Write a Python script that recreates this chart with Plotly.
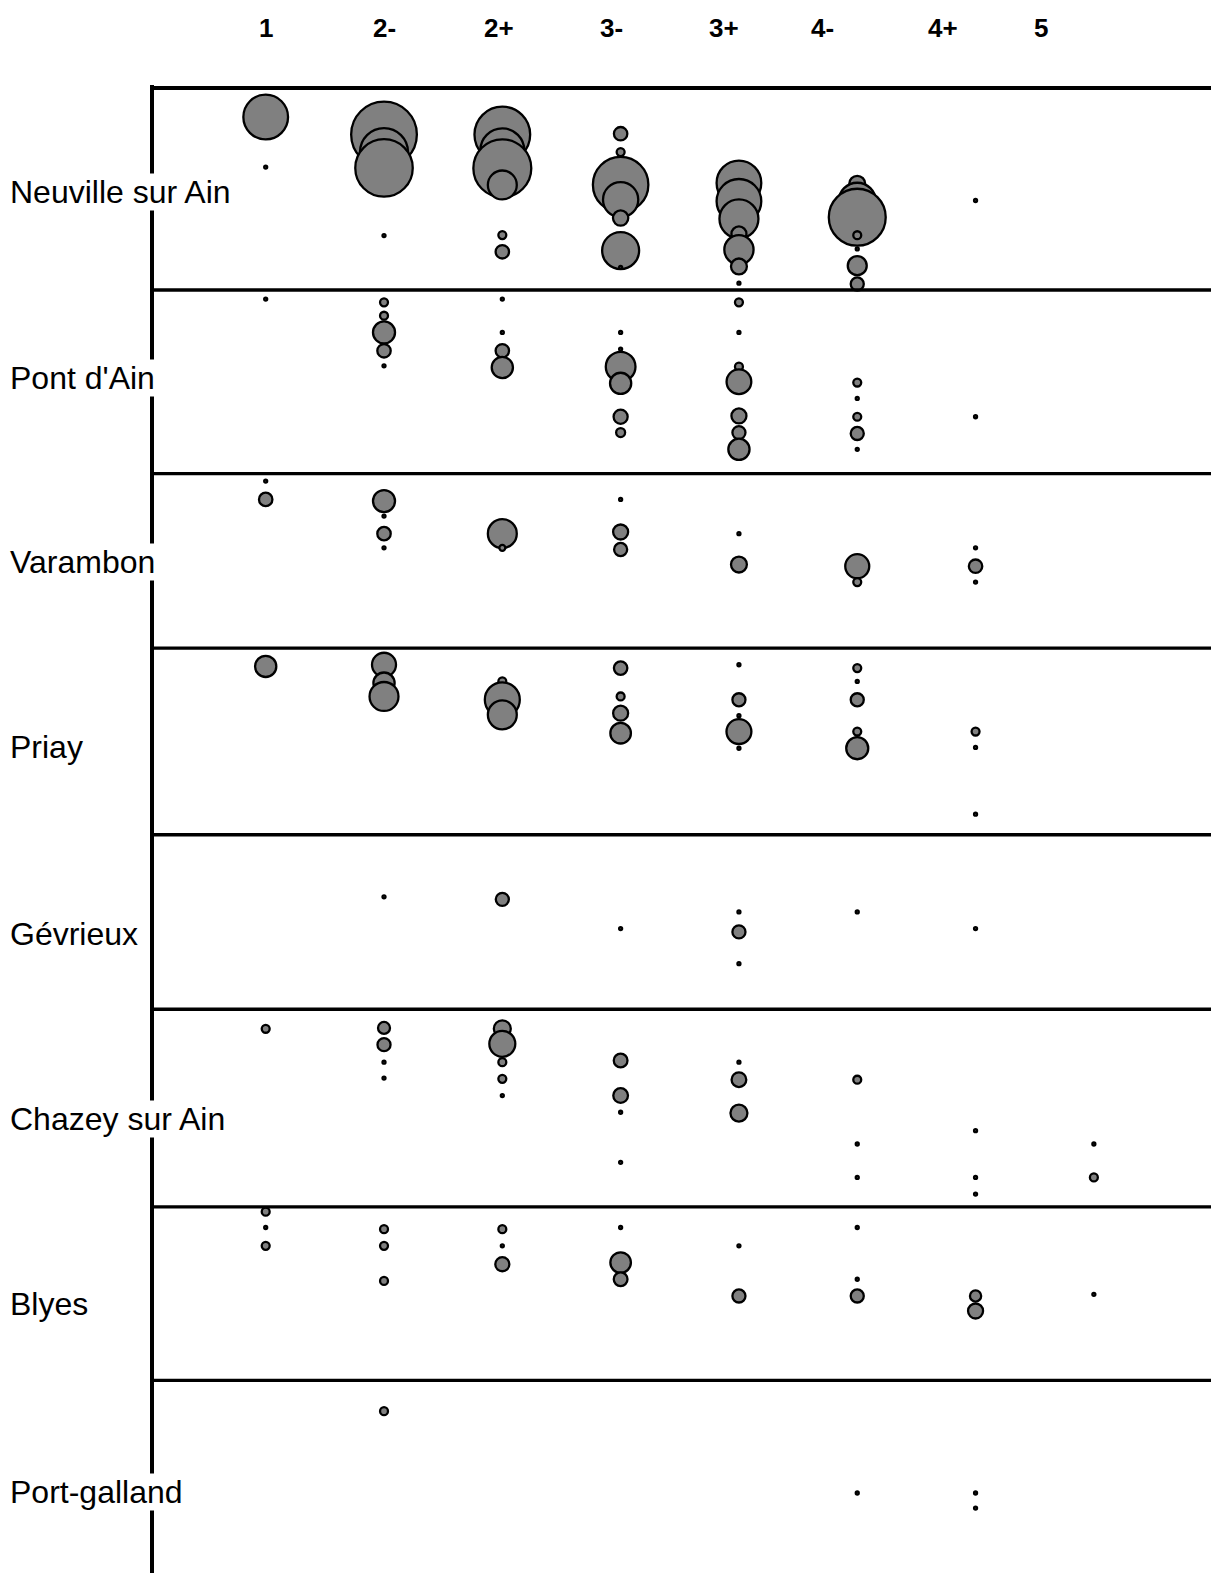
import plotly.graph_objects as go

# ---- categories and sites -------------------------------------------------
CATS = ["1", "2-", "2+", "3-", "3+", "4-", "4+", "5"]
SITES = ["Neuville sur Ain", "Pont d'Ain", "Varambon", "Priay",
         "Gévrieux", "Chazey sur Ain", "Blyes", "Port-galland"]

# each record: (category, position on the vertical scale, abundance)
neuville = [
    ("1", 2.0, 222), ("1", 5.0, 1),
    ("2-", 3.05, 480), ("2-", 4.1, 256), ("2-", 5.05, 367), ("2-", 9.1, 1),
    ("2+", 3.05, 345), ("2+", 4.0, 215), ("2+", 5.07, 373), ("2+", 6.07, 93),
    ("2+", 9.07, 7), ("2+", 10.07, 20),
    ("3-", 3.0, 20), ("3-", 4.1, 7), ("3-", 6.05, 342), ("3-", 6.95, 138),
    ("3-", 8.05, 26), ("3-", 10.0, 152), ("3-", 11.0, 1),
    ("3+", 5.95, 222), ("3+", 7.05, 222), ("3+", 8.1, 169), ("3+", 9.0, 25),
    ("3+", 9.95, 95), ("3+", 10.95, 28), ("3+", 11.95, 1),
    ("4-", 6.0, 28), ("4-", 7.05, 154), ("4-", 8.0, 360), ("4-", 9.08, 7),
    ("4-", 9.9, 1), ("4-", 10.9, 40), ("4-", 12.0, 19),
    ("4+", 7.0, 1),
]
pont_dain = [
    ("1", 12.9, 1),
    ("2-", 13.1, 7), ("2-", 13.9, 7), ("2-", 14.9, 54), ("2-", 16.0, 20), ("2-", 16.9, 1),
    ("2+", 12.9, 1), ("2+", 14.9, 1), ("2+", 16.0, 20), ("2+", 17.0, 50),
    ("3-", 14.9, 1), ("3-", 15.9, 1), ("3-", 16.95, 98), ("3-", 17.95, 50),
    ("3-", 19.95, 22), ("3-", 20.9, 9),
    ("3+", 13.1, 7), ("3+", 14.9, 1), ("3+", 16.95, 7), ("3+", 17.85, 68),
    ("3+", 19.9, 25), ("3+", 20.9, 19), ("3+", 21.9, 50),
    ("4-", 17.9, 7), ("4-", 18.85, 1), ("4-", 19.95, 7), ("4-", 20.95, 19), ("4-", 21.9, 1),
    ("4+", 19.95, 1),
]
varambon = [
    ("1", 23.8, 1), ("1", 24.9, 20),
    ("2-", 25.0, 54), ("2-", 25.9, 1), ("2-", 26.95, 20), ("2-", 27.8, 1),
    ("2+", 26.95, 93), ("2+", 27.8, 4),
    ("3-", 24.9, 1), ("3-", 26.85, 25), ("3-", 27.9, 19),
    ("3+", 26.95, 1), ("3+", 28.8, 28),
    ("4-", 28.9, 64), ("4-", 29.85, 7),
    ("4+", 27.8, 1), ("4+", 28.9, 20), ("4+", 29.85, 1),
]
priay = [
    ("1", 34.9, 50),
    ("2-", 34.8, 64), ("2-", 35.9, 50), ("2-", 36.7, 93),
    ("2+", 35.8, 7), ("2+", 36.9, 136), ("2+", 37.8, 93),
    ("3-", 35.0, 20), ("3-", 36.7, 7), ("3-", 37.7, 25), ("3-", 38.9, 47),
    ("3+", 34.8, 1), ("3+", 36.9, 19), ("3+", 37.85, 1), ("3+", 38.8, 69), ("3+", 39.8, 1),
    ("4-", 35.0, 7), ("4-", 35.8, 1), ("4-", 36.9, 19), ("4-", 38.8, 7), ("4-", 39.8, 54),
    ("4+", 38.8, 7), ("4+", 39.75, 1), ("4+", 43.75, 1),
]
gevrieux = [
    ("2-", 48.7, 1),
    ("2+", 48.85, 19),
    ("3-", 50.6, 1),
    ("3+", 49.6, 1), ("3+", 50.8, 19), ("3+", 52.7, 1),
    ("4-", 49.6, 1),
    ("4+", 50.6, 1),
]
chazey = [
    ("1", 56.6, 7),
    ("2-", 56.55, 16), ("2-", 57.55, 19), ("2-", 58.6, 1), ("2-", 59.55, 1),
    ("2+", 56.6, 32), ("2+", 57.5, 75), ("2+", 58.6, 7), ("2+", 59.6, 7), ("2+", 60.6, 1),
    ("3-", 58.5, 21), ("3-", 60.6, 24), ("3-", 61.6, 1), ("3-", 64.6, 1),
    ("3+", 58.6, 1), ("3+", 59.65, 24), ("3+", 61.65, 32),
    ("4-", 59.65, 7), ("4-", 63.5, 1), ("4-", 65.5, 1),
    ("4+", 62.7, 1), ("4+", 65.5, 1), ("4+", 66.5, 1),
    ("5", 63.5, 1), ("5", 65.5, 7),
]
blyes = [
    ("1", 67.55, 7), ("1", 68.5, 1), ("1", 69.6, 7),
    ("2-", 68.6, 7), ("2-", 69.6, 7), ("2-", 71.7, 7),
    ("2+", 68.6, 7), ("2+", 69.6, 1), ("2+", 70.7, 22),
    ("3-", 68.5, 1), ("3-", 70.6, 47), ("3-", 71.6, 21),
    ("3+", 69.6, 1), ("3+", 72.6, 19),
    ("4-", 68.5, 1), ("4-", 71.6, 1), ("4-", 72.6, 19),
    ("4+", 72.6, 14), ("4+", 73.5, 25),
    ("5", 72.5, 1),
]
port_galland = [
    ("2-", 79.5, 7),
    ("4-", 84.4, 1),
    ("4+", 84.4, 1), ("4+", 85.3, 1),
]
SITE_DATA = [neuville, pont_dain, varambon, priay, gevrieux, chazey, blyes, port_galland]

# site band boundaries and label centres on the vertical scale
BAND_EDGES = [12.36, 23.35, 33.8, 44.98, 55.43, 67.27, 77.66]
LABEL_POS = [6.49, 17.64, 28.63, 39.75, 50.92, 61.98, 73.1, 84.33]
Y_RANGE = [89.19, 0.263]
X_RANGE = [-0.961, 7.99]
# header label positions (on the category index scale)
HEADER_POS = [0.0, 1.007, 1.972, 2.919, 3.874, 4.71, 5.725, 6.554]

FONT = "Arial, 'Liberation Sans', sans-serif"

fig = go.Figure()
for pts in SITE_DATA:
    pts = sorted(pts, key=lambda p: p[1])
    fig.add_trace(go.Scatter(
        x=[CATS.index(c) for c, _, _ in pts],
        y=[v for _, v, _ in pts],
        mode="markers",
        marker=dict(size=[n for _, _, n in pts], sizemode="area", sizeref=2 / 9,
                    sizemin=0, color="#808080", opacity=1,
                    line=dict(color="black", width=2.3)),
        hoverinfo="skip",
        cliponaxis=False,
    ))

shapes = []
# top border
shapes.append(dict(type="line", xref="paper", yref="paper", x0=0, x1=1, y0=1, y1=1,
                   line=dict(color="black", width=3.8), layer="above"))
for e in BAND_EDGES:
    shapes.append(dict(type="line", xref="paper", yref="y", x0=0, x1=1, y0=e, y1=e,
                       line=dict(color="black", width=3.3), layer="above"))
# left axis line
shapes.append(dict(type="line", xref="paper", yref="paper", x0=0, x1=0, y0=0, y1=1.002,
                   line=dict(color="black", width=4), layer="above"))

annotations = []
for lab, pos in zip(CATS, HEADER_POS):
    annotations.append(dict(text="<b>%s</b>" % lab, x=pos, xref="x", y=1.0404, yref="paper",
                            xanchor="center", yanchor="middle", showarrow=False,
                            font=dict(family=FONT, size=26, color="black")))
for name, pos in zip(SITES, LABEL_POS):
    annotations.append(dict(text=name, x=-0.1355, xref="paper", y=pos, yref="y",
                            xanchor="left", yanchor="middle", showarrow=False,
                            bgcolor="white", borderpad=0,
                            font=dict(family=FONT, size=32, color="black")))

fig.update_layout(
    width=1211, height=1573,
    margin=dict(l=152, r=0, t=88, b=0),
    plot_bgcolor="white", paper_bgcolor="white",
    showlegend=False,
    xaxis=dict(range=X_RANGE, visible=False),
    yaxis=dict(range=Y_RANGE, visible=False),
    shapes=shapes, annotations=annotations,
)

fig.write_html("out.html", config={"displayModeBar": False},
               post_script="document.body.style.margin='0';")
